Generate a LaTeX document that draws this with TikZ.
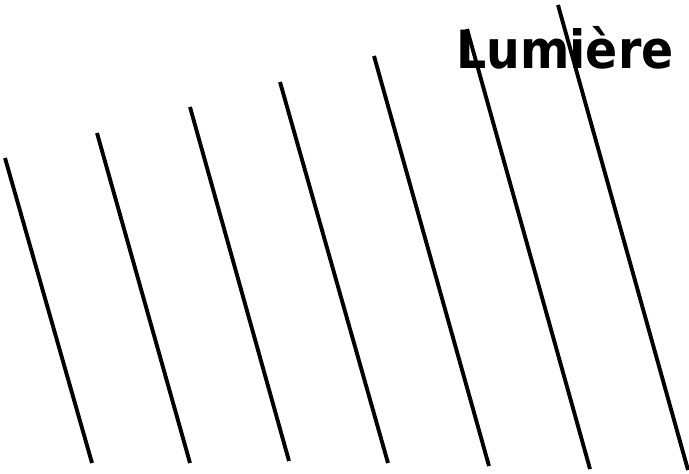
\documentclass[tikz,border=0pt]{standalone}
\usepackage{fontspec}
\setmainfont{DejaVu Sans Condensed}
\usepackage{tikz}
\tikzset{
  strahl/.style={line width=2.9pt, draw=black},
  titel/.style={font=\bfseries\fontsize{39.5}{39.5}\selectfont, inner sep=0pt, anchor=base},
}
\begin{document}
\begin{tikzpicture}[x=0.75pt, y=-0.75pt]
  \useasboundingbox (0,0) rectangle (689,474);
  % Lichtstrahlen, schraeg von oben links nach unten rechts
  \foreach \xa/\ya/\xb/\yb in {5/158/92/463, 97/133/190/463, 190/107/289/461,
    280/82/388/463, 374/56/489/466, 467/29/590/469, 558/5/688/470}
    \draw[strahl] (\xa,\ya) -- (\xb,\yb);
  % Titel
  \node[titel] (lumiere) at (565,69) {Lumière};
\end{tikzpicture}
\end{document}
